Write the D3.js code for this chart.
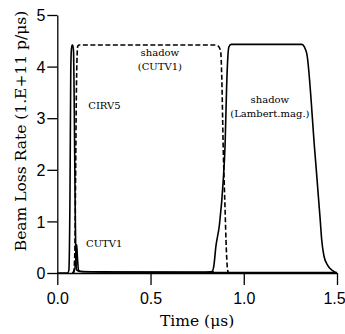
<!DOCTYPE html>
<html>
<head>
<meta charset="utf-8">
<script src="https://cdn.jsdelivr.net/npm/d3@7"></script>
<style>
  body { margin:0; background:#fff; }
  svg { display:block; }
  .tick text { font-family:"Liberation Sans", Arial, sans-serif; font-size:16px; fill:#000; }
  .domain, .tick line { stroke:#000; stroke-width:1.3; }
  .lbl { font-family:"DejaVu Serif", serif; font-size:10px; fill:#000; }
  .title { font-family:"DejaVu Serif", serif; font-size:15.5px; fill:#000; }
</style>
</head>
<body>
<svg id="chart" width="345" height="334"></svg>
<script>
// values (time in us, rate in 1E11 p/us)
var timeCIRV5 = [0, 0.055, 0.062, 0.068, 0.072, 0.075, 0.079, 0.083, 0.087, 0.091, 0.095, 0.099, 0.104, 0.12, 0.3, 0.85, 1.5];
var rateCIRV5 = [0, 0, 0.05, 1.5, 3.8, 4.3, 4.42, 4.42, 4.3, 3.2, 1.6, 0.4, 0.06, 0.03, 0.02, 0.01, 0.01];

var timeCUTV1 = [0.08, 0.092, 0.1, 0.104, 0.108, 0.114, 0.13, 0.35, 0.84];
var rateCUTV1 = [0, 0.05, 0.3, 0.55, 0.3, 0.05, 0.03, 0.02, 0.02];

var timeShadowCUTV1 = [0.088, 0.094, 0.098, 0.102, 0.106, 0.11, 0.118, 0.5, 0.84, 0.862, 0.876, 0.882, 0.89, 0.9, 0.906, 0.912, 0.918];
var rateShadowCUTV1 = [0, 0.4, 1.8, 3.4, 4.2, 4.4, 4.42, 4.42, 4.42, 4.4, 4.3, 3.8, 2.4, 1.2, 0.5, 0.1, 0];

var timeShadowLambert = [0.8, 0.83, 0.84, 0.85, 0.87, 0.89, 0.9, 0.908, 0.914, 0.92, 0.932, 1.1, 1.312, 1.325, 1.338, 1.38, 1.41, 1.418, 1.43, 1.45, 1.475, 1.497];
var rateShadowLambert = [0.01, 0.03, 0.15, 0.5, 0.95, 1.8, 2.5, 3.6, 4.15, 4.38, 4.43, 4.43, 4.43, 4.38, 4.25, 2.4, 1.03, 0.64, 0.33, 0.15, 0.05, 0];

var xTicks = [0, 0.5, 1.0, 1.5];
var yTicks = [0, 1, 2, 3, 4, 5];

var labelText = ["shadow", "(CUTV1)", "CIRV5", "CUTV1", "shadow", "(Lambert.mag.)"];
var labelTime = [0.55, 0.55, 0.166, 0.154, 1.14, 1.14];
var labelRate = [4.2, 3.94, 3.18, 0.51, 3.29, 3.02];

var margin = {top: 15, right: 8, bottom: 61, left: 57.3},
    width = 345 - margin.left - margin.right,
    height = 334 - margin.top - margin.bottom;

var svg = d3.select("#chart");
var g = svg.append("g")
    .attr("transform", "translate(" + margin.left + "," + margin.top + ")");

var x = d3.scaleLinear().domain([0, 1.5]).range([0, width]);
var y = d3.scaleLinear().domain([0, 5]).range([height, 0]);

var xAxis = g.append("g")
    .attr("transform", "translate(0," + height + ")")
    .call(d3.axisBottom(x).tickValues(xTicks).tickFormat(d3.format(".1f")).tickSize(12).tickSizeOuter(0).tickPadding(8));
// last label sits at the picture's edge, nudge it in a bit
xAxis.selectAll(".tick text").filter(function(d) { return d === 1.5; }).attr("x", -3);

g.append("g")
    .call(d3.axisLeft(y).tickValues(yTicks).tickFormat(d3.format("d")).tickSize(10).tickSizeOuter(0).tickPadding(2))
  .selectAll(".tick text").attr("dy", "0.36em");

var line = d3.line()
    .x(function(d) { return x(d[0]); })
    .y(function(d) { return y(d[1]); })
    .curve(d3.curveMonotoneX);

var series = [
  {t: timeShadowCUTV1, r: rateShadowCUTV1, dash: "5,2.5"},
  {t: timeShadowLambert, r: rateShadowLambert, dash: null},
  {t: timeCUTV1, r: rateCUTV1, dash: null},
  {t: timeCIRV5, r: rateCIRV5, dash: null}
];

series.forEach(function(s) {
  g.append("path")
      .datum(d3.zip(s.t, s.r))
      .attr("fill", "none")
      .attr("stroke", "#000")
      .attr("stroke-width", 1.6)
      .attr("stroke-linejoin", "round")
      .attr("stroke-dasharray", s.dash)
      .attr("d", line);
});

g.selectAll(".lbl")
    .data(d3.range(labelText.length))
    .enter().append("text")
    .attr("class", "lbl")
    .attr("x", function(i) { return x(labelTime[i]); })
    .attr("y", function(i) { return y(labelRate[i]); })
    .attr("text-anchor", function(i) { return (labelText[i] === "CIRV5" || labelText[i] === "CUTV1") ? "start" : "middle"; })
    .text(function(i) { return labelText[i]; });

svg.append("text")
    .attr("class", "title")
    .attr("x", margin.left + x(0.75))
    .attr("y", 326)
    .attr("text-anchor", "middle")
    .text("Time (\u03bcs)");

svg.append("text")
    .attr("class", "title")
    .attr("transform", "translate(26,131) rotate(-90)")
    .attr("text-anchor", "middle")
    .text("Beam Loss Rate (1.E+11 p/\u03bcs)");
</script>
</body>
</html>
